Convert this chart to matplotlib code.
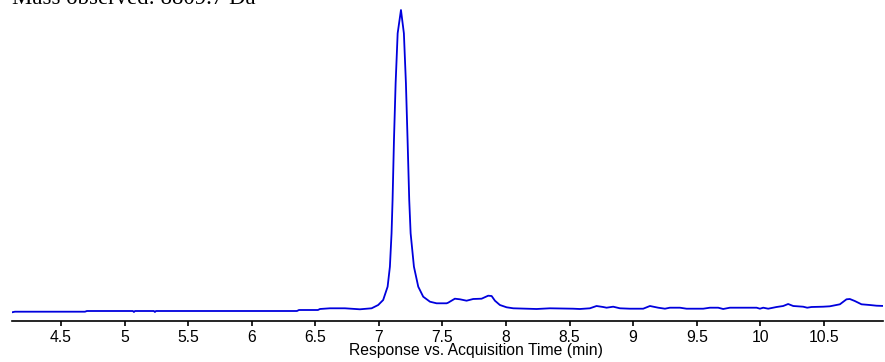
import matplotlib
matplotlib.use("Agg")
import matplotlib.pyplot as plt

# Total ion chromatogram: acquisition time (min) and detector response (arb. units)
time_min = [
    4.115, 4.138, 4.689, 4.704, 5.066, 5.074, 5.082, 5.231, 5.239, 5.247,
    6.356, 6.372, 6.521, 6.537, 6.615, 6.733, 6.851, 6.943, 6.995, 7.034,
    7.069, 7.087, 7.100, 7.108, 7.119, 7.132, 7.148, 7.174, 7.197, 7.213,
    7.226, 7.239, 7.250, 7.276, 7.310, 7.349, 7.402, 7.454, 7.533, 7.545,
    7.598, 7.638, 7.690, 7.742, 7.808, 7.860, 7.887, 7.913, 7.952, 8.005,
    8.057, 8.241, 8.345, 8.528, 8.581, 8.660, 8.712, 8.764, 8.791, 8.843,
    8.896, 8.974, 9.079, 9.132, 9.197, 9.250, 9.289, 9.368, 9.420, 9.551,
    9.604, 9.669, 9.708, 9.761, 9.971, 9.997, 10.023, 10.062, 10.128, 10.180,
    10.219, 10.259, 10.337, 10.369, 10.403, 10.494, 10.547, 10.626, 10.678, 10.704,
    10.743, 10.796, 10.861, 10.914, 10.980,
]
response = [
    8.7, 9.3, 9.3, 10.0, 10.0, 9.0, 10.0, 10.0, 9.0, 10.0,
    10.0, 11.0, 11.0, 12.0, 12.7, 12.7, 11.7, 12.7, 16.0, 21.0,
    34.3, 54.3, 87.7, 121.0, 181.0, 237.7, 287.7, 311.0, 287.7, 237.7,
    181.0, 121.0, 87.7, 54.3, 34.3, 24.3, 19.3, 17.7, 17.7, 18.3,
    22.3, 21.7, 20.3, 22.0, 22.3, 25.3, 25.0, 20.3, 16.0, 13.7,
    12.7, 12.0, 12.7, 12.3, 12.0, 12.7, 15.0, 14.0, 13.3, 14.3,
    12.7, 12.3, 12.3, 15.0, 13.3, 12.3, 13.3, 13.3, 12.3, 12.3,
    13.3, 13.3, 12.0, 13.3, 13.3, 12.3, 13.3, 12.3, 14.0, 15.0,
    17.0, 15.0, 14.3, 13.3, 14.0, 14.3, 14.7, 16.7, 21.7, 22.0,
    20.0, 16.7, 16.0, 15.3, 15.0,
]
tick_values = [4.5, 5, 5.5, 6, 6.5, 7, 7.5, 8, 8.5, 9, 9.5, 10, 10.5]
tick_labels = ["4.5", "5", "5.5", "6", "6.5", "7", "7.5", "8", "8.5", "9", "9.5", "10", "10.5"]
title_text = "Mass observed: 8809.7 Da"
xlabel_text = "Response vs. Acquisition Time (min)"

W, H = 885, 362
fig = plt.figure(figsize=(W / 100, H / 100), dpi=100)
ax_left, ax_bottom, ax_w, ax_h = 12, 41, 871, 316
ax = fig.add_axes([ax_left / W, ax_bottom / H, ax_w / W, ax_h / H])

ax.plot(time_min, response, color="#0000dd", lw=1.3, solid_joinstyle="round")

ax.set_xlim(4.115, 10.965)
ax.set_ylim(0, ax_h)

for side in ("left", "right", "top"):
    ax.spines[side].set_visible(False)
ax.spines["bottom"].set_linewidth(1.2)
ax.set_yticks([])
ax.set_xticks(tick_values)
ax.set_xticklabels(tick_labels, fontfamily="Liberation Sans", fontsize=11.3)
ax.tick_params(axis="x", direction="out", length=3.6, width=1.2, pad=3)

ax.set_xlabel(xlabel_text, fontfamily="Liberation Sans", fontsize=11.3, va="top")
ax.xaxis.set_label_coords((475.5 - ax_left) / ax_w, -22.5 / ax_h)

fig.text(12 / W, (H - 4.5) / H, title_text, fontfamily="Liberation Serif",
         fontsize=16.4, ha="left", va="baseline")

fig.savefig("out.png", dpi=100)
